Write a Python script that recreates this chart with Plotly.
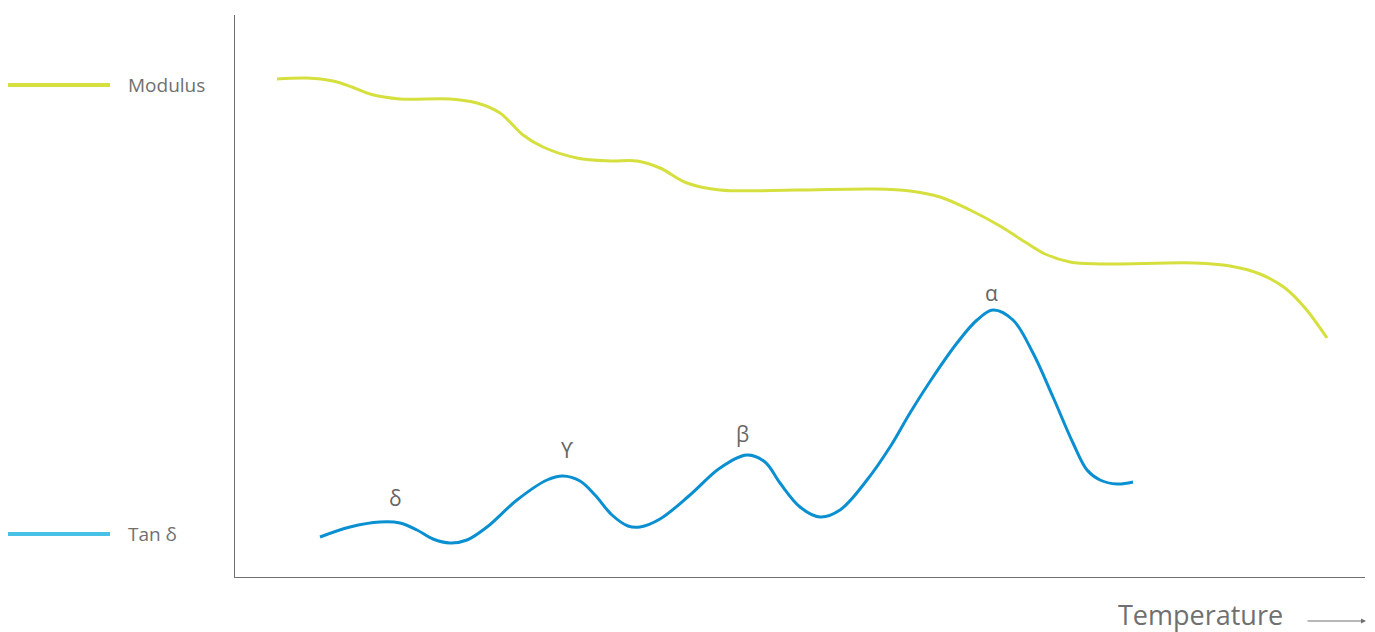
import plotly.graph_objects as go

W, H = 1375, 632
L, R, T, B = 235, 10, 15, 55  # plot area: x 235..1365, y 15..577

# Modulus curve (x: temperature units, y: response units)
mod_x = [42, 72, 98, 117, 135, 165, 215, 242, 265, 288, 308, 342, 375, 402, 425, 452,
         485, 560, 640, 675, 705, 735, 765, 790, 810, 835, 865, 960, 995, 1025, 1050, 1070, 1092]
mod_y = [498, 499, 496, 490, 483, 478, 478, 474, 464, 442, 430, 419, 416, 416, 409, 394,
         387, 387, 388, 386, 380, 367, 351, 335, 323, 315, 313, 314, 311, 303, 289, 269, 239]

# Tan delta curve
tan_x = [85, 115, 145, 165, 182, 198, 215, 232, 252, 282, 312, 328, 345, 360, 377, 393,
         405, 425, 455, 485, 512, 530, 545, 565, 585, 605, 632, 655, 675, 698, 722, 742,
         758, 778, 798, 818, 838, 852, 865, 882, 898]
tan_y = [40, 50, 55, 54, 47, 38, 34, 37, 50, 77, 97, 101, 96, 82, 62, 51,
         50, 58, 82, 109, 122, 115, 94, 70, 60, 67, 97, 130, 164, 200, 234, 257,
         267, 257, 224, 180, 134, 107, 97, 93, 95]

peak_labels = ["δ", "ϒ", "β", "α"]
peak_x = [160, 332, 507, 756]
peak_y = [79, 127, 143, 284]

legend_names = ["Modulus", "Tan δ"]
x_label = "Temperature"

GRAY = "#707070"
LABEL_GRAY = "#666666"
YELLOW = "#d5e03f"
BLUE = "#0a8fd1"
LEG_BLUE = "#47c2e6"
FONT = "Open Sans, DejaVu Sans, sans-serif"

fig = go.Figure()
fig.add_trace(go.Scatter(x=mod_x, y=mod_y, mode="lines", name=legend_names[0],
                         line=dict(color=YELLOW, width=3, shape="spline", smoothing=1.0),
                         showlegend=False, hoverinfo="skip"))
fig.add_trace(go.Scatter(x=tan_x, y=tan_y, mode="lines", name=legend_names[1],
                         line=dict(color=BLUE, width=3, shape="spline", smoothing=1.0),
                         showlegend=False, hoverinfo="skip"))

pw, ph = W - L - R, H - T - B


def px_to_paper(px, py):
    return (px - L) / pw, 1 - (py - T) / ph


annotations = []
for lab, x, y in zip(peak_labels, peak_x, peak_y):
    annotations.append(dict(x=x, y=y, xref="x", yref="y", text=lab,
                            showarrow=False, yanchor="middle", xanchor="center",
                            font=dict(family=FONT, size=21, color=LABEL_GRAY)))

shapes = []
for name, py, col in [(legend_names[0], 85, YELLOW), (legend_names[1], 534, LEG_BLUE)]:
    x0, y0 = px_to_paper(8, py)
    x1, _ = px_to_paper(110, py)
    shapes.append(dict(type="line", xref="paper", yref="paper", x0=x0, x1=x1, y0=y0, y1=y0,
                       line=dict(color=col, width=4)))
    tx, ty = px_to_paper(126, py)
    annotations.append(dict(x=tx, y=ty, xref="paper", yref="paper", text=name,
                            showarrow=False, xanchor="left", yanchor="middle",
                            font=dict(family=FONT, size=19, color=GRAY)))

# Temperature label and arrow
tx, ty = px_to_paper(1285, 615)
annotations.append(dict(x=tx, y=ty, xref="paper", yref="paper", text=x_label,
                        showarrow=False, xanchor="right", yanchor="middle",
                        font=dict(family=FONT, size=27, color=GRAY)))
ax0, ay0 = px_to_paper(1366, 621)
annotations.append(dict(x=ax0, y=ay0, xref="paper", yref="paper", text="",
                        showarrow=True, ax=-60, ay=0, arrowhead=2, arrowsize=1,
                        arrowwidth=1, arrowcolor=GRAY))

fig.update_layout(
    width=W, height=H,
    margin=dict(l=L, r=R, t=T, b=B),
    paper_bgcolor="white", plot_bgcolor="white",
    xaxis=dict(range=[0, pw], showgrid=False, zeroline=False, showticklabels=False,
               ticks="", showline=True, linecolor=GRAY, linewidth=1, fixedrange=True),
    yaxis=dict(range=[0, ph], showgrid=False, zeroline=False, showticklabels=False,
               ticks="", showline=True, linecolor=GRAY, linewidth=1, fixedrange=True),
    annotations=annotations,
    shapes=shapes,
)

fig.write_html("out.html", config={"displayModeBar": False})
